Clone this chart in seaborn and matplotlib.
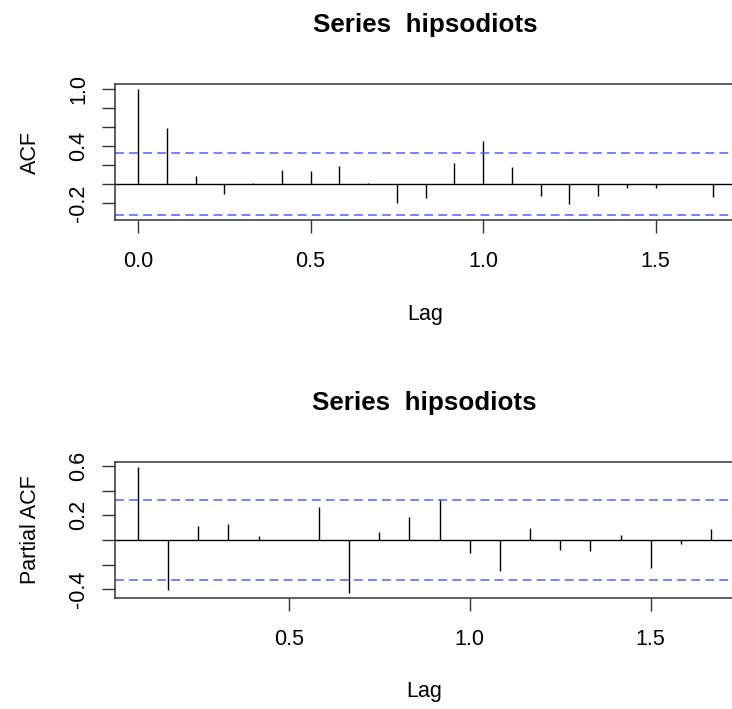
import numpy as np
import pandas as pd
import matplotlib
matplotlib.use("Agg")
import matplotlib.pyplot as plt
import seaborn as sns

# series info (36 monthly observations)
N_OBS = 36
FREQ = 12
TITLE = "Series  hipsodiots"

# autocorrelations, lags 0..20 (in units of 1/12)
acf_values = [1.0, 0.589, 0.088, -0.109, 0.014, 0.151, 0.137, 0.19, 0.01,
              -0.196, -0.151, 0.221, 0.456, 0.175, -0.126, -0.214, -0.13,
              -0.046, -0.042, -0.005, -0.137]
# partial autocorrelations, lags 1..20
pacf_values = [0.589, -0.403, 0.114, 0.130, 0.029, 0.003, 0.268, -0.427,
               0.061, 0.183, 0.334, -0.106, -0.255, 0.095, -0.080, -0.090,
               0.040, -0.225, -0.034, 0.093]

acf_yticks = [-0.2, 0.0, 0.2, 0.4, 0.6, 0.8, 1.0]
acf_ylabels = ["-0.2", "", "", "0.4", "", "", "1.0"]
pacf_yticks = [-0.4, -0.2, 0.0, 0.2, 0.4, 0.6]
pacf_ylabels = ["-0.4", "", "", "0.2", "", "0.6"]
acf_xticks = [0.0, 0.5, 1.0, 1.5]
pacf_xticks = [0.5, 1.0, 1.5]

sns.set_theme(style="ticks")
plt.rcParams["font.family"] = ["Liberation Sans", "DejaVu Sans"]
for k in ["text.color", "axes.labelcolor", "xtick.color", "ytick.color"]:
    plt.rcParams[k] = "black"

FS = 15.5
TICK_LEN = 9.4


def draw_panel(ax, df, ylabel, yticks, ylabels, xticks):
    clim = 1.96 / np.sqrt(N_OBS)
    ax.vlines(df["lag"], 0, df["value"], color="black", lw=1)
    ax.axhline(0, color="black", lw=1)
    for c in (clim, -clim):
        ax.axhline(c, color="#5060ff", lw=1.1, linestyle=(0, (5.8, 3.4)))

    # R style limits: data range padded by 4%
    lo = df["lag"].min()
    hi = df["lag"].max()
    ax.set_xlim(lo - 0.04 * (hi - lo), hi + 0.04 * (hi - lo))
    ylo = min(-clim, df["value"].min())
    yhi = max(clim, df["value"].max())
    ax.set_ylim(ylo - 0.04 * (yhi - ylo), yhi + 0.04 * (yhi - ylo))

    ax.set_xticks(xticks)
    ax.set_xticklabels([f"{t:.1f}" for t in xticks], fontsize=FS)
    ax.set_yticks(yticks)
    ax.set_yticklabels(ylabels, fontsize=FS, rotation=90, va="center")
    ax.tick_params(axis="x", direction="out", length=TICK_LEN, width=1,
                   pad=13.2, color="#333333")
    ax.tick_params(axis="y", direction="out", length=TICK_LEN, width=1,
                   pad=9, color="#333333")
    for s in ["top", "bottom", "left", "right"]:
        ax.spines[s].set_color("#333333")
        ax.spines[s].set_linewidth(1.1)

    ax.set_xlabel("Lag", fontsize=FS, labelpad=22.5)
    ax.set_ylabel(ylabel, fontsize=FS, labelpad=20)
    ax.set_title(TITLE, fontsize=18.7, fontweight="bold", pad=37.4)


acf_df = pd.DataFrame({"lag": np.arange(len(acf_values)) / FREQ,
                       "value": acf_values})
pacf_df = pd.DataFrame({"lag": np.arange(1, len(pacf_values) + 1) / FREQ,
                        "value": pacf_values})

W, H = 732, 709
fig = plt.figure(figsize=(W / 100, H / 100), dpi=100)
ax1 = fig.add_axes([115 / W, 1 - 220 / H, 621 / W, 136 / H])
ax2 = fig.add_axes([115 / W, 1 - 597.7 / H, 619 / W, 135.4 / H])

draw_panel(ax1, acf_df, "ACF", acf_yticks, acf_ylabels, acf_xticks)
draw_panel(ax2, pacf_df, "Partial ACF", pacf_yticks, pacf_ylabels, pacf_xticks)

fig.savefig("out.png", dpi=100)
